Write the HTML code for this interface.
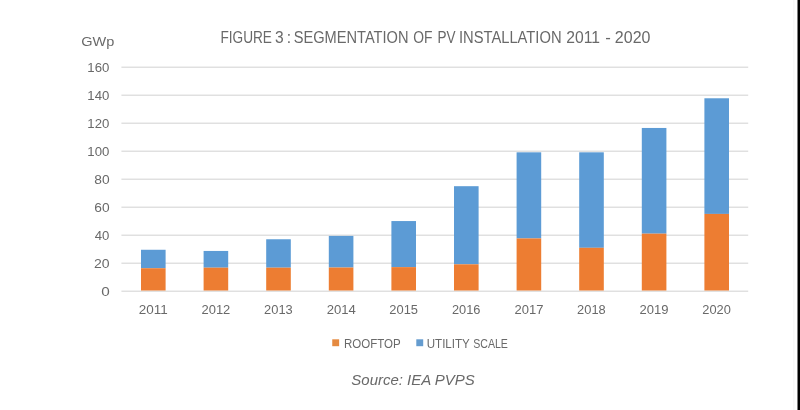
<!DOCTYPE html>
<html lang="en"><head><meta charset="utf-8"><title>Figure 3: Segmentation of PV installation 2011 - 2020</title>
<style>html,body{margin:0;padding:0;background:#fff;overflow:hidden}body{width:800px;height:410px;position:relative}svg{display:block;position:absolute;left:0;top:0}text{font-family:"Liberation Sans",sans-serif;fill:#696969}</style></head><body>
<svg width="800" height="410" viewBox="0 0 800 410">
<rect x="0" y="0" width="800" height="410" fill="#ffffff"/>
<defs><filter id="soft" x="0" y="0" width="800" height="410" filterUnits="userSpaceOnUse"><feGaussianBlur stdDeviation="0.4"/></filter></defs>
<g filter="url(#soft)">
<rect x="121.4" y="290.60" width="626.8" height="1.2" fill="#d9d9d9"/>
<rect x="121.4" y="262.60" width="626.8" height="1.2" fill="#d9d9d9"/>
<rect x="121.4" y="234.60" width="626.8" height="1.2" fill="#d9d9d9"/>
<rect x="121.4" y="206.60" width="626.8" height="1.2" fill="#d9d9d9"/>
<rect x="121.4" y="178.60" width="626.8" height="1.2" fill="#d9d9d9"/>
<rect x="121.4" y="150.60" width="626.8" height="1.2" fill="#d9d9d9"/>
<rect x="121.4" y="122.60" width="626.8" height="1.2" fill="#d9d9d9"/>
<rect x="121.4" y="94.60" width="626.8" height="1.2" fill="#d9d9d9"/>
<rect x="121.4" y="66.60" width="626.8" height="1.2" fill="#d9d9d9"/>
<rect x="141.00" y="249.76" width="24.60" height="18.48" fill="#5b9bd5"/>
<rect x="141.00" y="268.24" width="24.60" height="22.26" fill="#ed7d31"/>
<rect x="203.60" y="250.95" width="24.60" height="16.73" fill="#5b9bd5"/>
<rect x="203.60" y="267.68" width="24.60" height="22.82" fill="#ed7d31"/>
<rect x="266.20" y="239.26" width="24.60" height="28.42" fill="#5b9bd5"/>
<rect x="266.20" y="267.68" width="24.60" height="22.82" fill="#ed7d31"/>
<rect x="328.80" y="235.90" width="24.60" height="31.64" fill="#5b9bd5"/>
<rect x="328.80" y="267.54" width="24.60" height="22.96" fill="#ed7d31"/>
<rect x="391.40" y="221.06" width="24.60" height="46.06" fill="#5b9bd5"/>
<rect x="391.40" y="267.12" width="24.60" height="23.38" fill="#ed7d31"/>
<rect x="454.00" y="186.20" width="24.60" height="78.12" fill="#5b9bd5"/>
<rect x="454.00" y="264.32" width="24.60" height="26.18" fill="#ed7d31"/>
<rect x="516.60" y="152.32" width="24.60" height="86.10" fill="#5b9bd5"/>
<rect x="516.60" y="238.42" width="24.60" height="52.08" fill="#ed7d31"/>
<rect x="579.20" y="152.32" width="24.60" height="95.48" fill="#5b9bd5"/>
<rect x="579.20" y="247.80" width="24.60" height="42.70" fill="#ed7d31"/>
<rect x="641.80" y="127.96" width="24.60" height="105.70" fill="#5b9bd5"/>
<rect x="641.80" y="233.66" width="24.60" height="56.84" fill="#ed7d31"/>
<rect x="704.40" y="98.28" width="24.60" height="115.64" fill="#5b9bd5"/>
<rect x="704.40" y="213.92" width="24.60" height="76.58" fill="#ed7d31"/>
<text x="220.40" y="42.80" font-size="15.6" textLength="51.55" lengthAdjust="spacingAndGlyphs">FIGURE</text>
<text x="274.96" y="42.80" font-size="15.6" textLength="16.06" lengthAdjust="spacing">3:</text>
<text x="293.65" y="42.80" font-size="15.6" textLength="114.85" lengthAdjust="spacingAndGlyphs">SEGMENTATION</text>
<text x="413.14" y="42.80" font-size="15.6" textLength="19.23" lengthAdjust="spacingAndGlyphs">OF</text>
<text x="437.40" y="42.80" font-size="15.6" textLength="18.07" lengthAdjust="spacingAndGlyphs">PV</text>
<text x="458.91" y="42.80" font-size="15.6" textLength="102.65" lengthAdjust="spacingAndGlyphs">INSTALLATION</text>
<text x="566.37" y="42.80" font-size="15.6" textLength="33.75" lengthAdjust="spacingAndGlyphs">2011</text>
<text x="605.24" y="42.80" font-size="15.6" textLength="5.60" lengthAdjust="spacingAndGlyphs">-</text>
<text x="614.89" y="42.80" font-size="15.6" textLength="35.60" lengthAdjust="spacingAndGlyphs">2020</text>
<text x="101.15" y="296.05" font-size="12.3" textLength="8.51" lengthAdjust="spacingAndGlyphs">0</text>
<text x="93.97" y="268.05" font-size="12.3" textLength="15.60" lengthAdjust="spacingAndGlyphs">20</text>
<text x="94.68" y="240.05" font-size="12.3" textLength="14.65" lengthAdjust="spacingAndGlyphs">40</text>
<text x="94.25" y="212.05" font-size="12.3" textLength="15.32" lengthAdjust="spacingAndGlyphs">60</text>
<text x="94.24" y="184.05" font-size="12.3" textLength="15.33" lengthAdjust="spacingAndGlyphs">80</text>
<text x="87.37" y="156.05" font-size="12.3" textLength="22.02" lengthAdjust="spacingAndGlyphs">100</text>
<text x="87.37" y="128.05" font-size="12.3" textLength="22.02" lengthAdjust="spacingAndGlyphs">120</text>
<text x="87.37" y="100.05" font-size="12.3" textLength="22.02" lengthAdjust="spacingAndGlyphs">140</text>
<text x="87.37" y="72.05" font-size="12.3" textLength="22.02" lengthAdjust="spacingAndGlyphs">160</text>
<text x="138.89" y="314.45" font-size="12.3" textLength="28.98" lengthAdjust="spacingAndGlyphs">2011</text>
<text x="201.51" y="314.45" font-size="12.3" textLength="28.79" lengthAdjust="spacingAndGlyphs">2012</text>
<text x="264.13" y="314.45" font-size="12.3" textLength="28.64" lengthAdjust="spacingAndGlyphs">2013</text>
<text x="326.77" y="314.45" font-size="12.3" textLength="29.11" lengthAdjust="spacingAndGlyphs">2014</text>
<text x="389.34" y="314.45" font-size="12.3" textLength="28.68" lengthAdjust="spacingAndGlyphs">2015</text>
<text x="451.99" y="314.45" font-size="12.3" textLength="28.49" lengthAdjust="spacingAndGlyphs">2016</text>
<text x="514.50" y="314.45" font-size="12.3" textLength="28.92" lengthAdjust="spacingAndGlyphs">2017</text>
<text x="577.13" y="314.45" font-size="12.3" textLength="28.60" lengthAdjust="spacingAndGlyphs">2018</text>
<text x="639.58" y="314.45" font-size="12.3" textLength="29.00" lengthAdjust="spacingAndGlyphs">2019</text>
<text x="702.34" y="314.45" font-size="12.3" textLength="28.54" lengthAdjust="spacingAndGlyphs">2020</text>
<text x="81.25" y="46.10" font-size="13" textLength="33.08" lengthAdjust="spacingAndGlyphs">GWp</text>
<text x="343.92" y="347.60" font-size="12" textLength="56.73" lengthAdjust="spacingAndGlyphs">ROOFTOP</text>
<text x="426.72" y="347.60" font-size="12" textLength="43.08" lengthAdjust="spacingAndGlyphs">UTILITY</text>
<text x="473.22" y="347.60" font-size="12" textLength="34.72" lengthAdjust="spacingAndGlyphs">SCALE</text>
<text x="351.37" y="384.60" font-size="14.67" font-style="italic" textLength="123.41" lengthAdjust="spacingAndGlyphs">Source: IEA PVPS</text>
<rect x="332.25" y="339.3" width="6.9" height="6.9" fill="#e58a3f"/>
<rect x="416.3" y="339.3" width="6.9" height="6.9" fill="#659ccf"/>
</g>
<rect x="793" y="0" width="1.5" height="410" fill="#f8f8f8"/>
<rect x="797.5" y="0" width="2.5" height="410" fill="#000"/>
</svg></body></html>
